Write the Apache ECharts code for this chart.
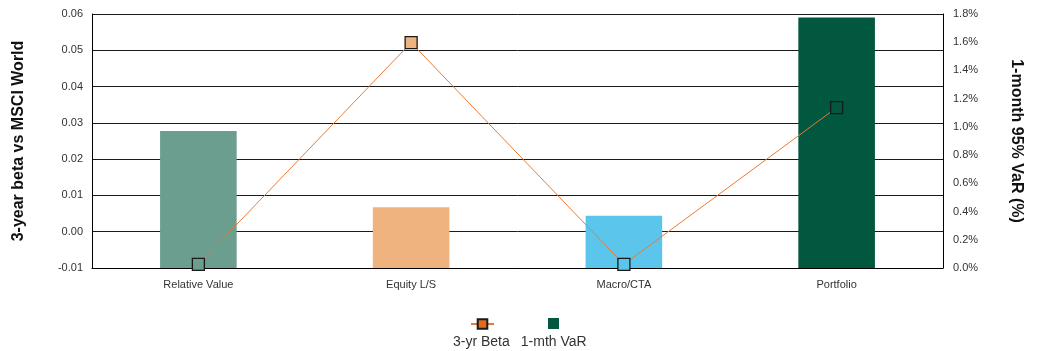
<!DOCTYPE html>
<html>
<head>
<meta charset="utf-8">
<script src="https://cdn.jsdelivr.net/npm/echarts@6/dist/echarts.min.js"></script>
<style>
  html, body { margin: 0; padding: 0; background: #fff; }
  #chart { width: 1042px; height: 351px; }
</style>
</head>
<body>
<div id="chart"></div>
<script>
// Strategy categories along the x axis
const categories = ['Relative Value', 'Equity L/S', 'Macro/CTA', 'Portfolio'];
// 3-year beta vs MSCI World (left axis)
const betaValues = [-0.009, 0.0521, -0.009, 0.0342];
// 1-month 95% VaR in percent (right axis)
const varValues = [0.97, 0.43, 0.37, 1.776];

// Palette: one colour per strategy
const strategyColors = ['#6b9e8e', '#eeb37f', '#5cc5ec', '#02573f'];
const betaColor = '#e06a1f';
const lineColor = '#e87b36';
const font = 'Liberation Sans, Arial, sans-serif';

const chart = echarts.init(document.getElementById('chart'), null, { renderer: 'canvas' });

chart.setOption({
  animation: false,
  textStyle: { fontFamily: font },
  grid: { left: 92, right: 99, top: 14, bottom: 83, containLabel: false },
  legend: [
    {
      // line + marker swatch
      data: ['3-yr Beta'],
      left: 470, top: 318, padding: 0,
      itemWidth: 23, itemHeight: 12,
      formatter: () => '',
      textStyle: { fontSize: 1 }
    },
    {
      // square swatch
      data: [{ name: '1-mth VaR', icon: 'path://M0,0H10V10H0Z', itemStyle: { color: '#02573f' } }],
      left: 548, top: 318, padding: 0,
      itemWidth: 11, itemHeight: 11,
      formatter: () => '',
      textStyle: { fontSize: 1 }
    },
    {
      // labels under the swatches (swatch hidden)
      data: ['3-yr Beta', '1-mth VaR'],
      left: 447, top: 335, padding: 0,
      itemWidth: 1, itemHeight: 1, itemGap: 5,
      icon: 'rect',
      itemStyle: { opacity: 0, borderWidth: 0 },
      lineStyle: { opacity: 0 },
      textStyle: { fontSize: 14, color: '#333', fontFamily: font }
    }
  ],
  xAxis: {
    type: 'category',
    data: categories,
    axisLine: { show: true, onZero: false, lineStyle: { color: '#000', width: 1 } },
    axisTick: { show: false },
    axisLabel: { fontSize: 11, color: '#333', margin: 11, fontFamily: font },
    splitLine: { show: false }
  },
  yAxis: [
    {
      type: 'value',
      min: -0.01, max: 0.06, interval: 0.01,
      name: '3-year beta vs MSCI World',
      nameLocation: 'middle',
      nameGap: 65.5,
      nameRotate: 90,
      nameTextStyle: { fontSize: 16, fontWeight: 'bold', color: '#111', fontFamily: font },
      axisLine: { show: true, lineStyle: { color: '#000', width: 1 } },
      axisTick: { show: false },
      axisLabel: { fontSize: 11, color: '#333', margin: 9, fontFamily: font,
                   formatter: v => v.toFixed(2) },
      splitLine: { show: true, lineStyle: { color: '#1a1a1a', width: 1 } }
    },
    {
      type: 'value',
      min: 0, max: 1.8, interval: 0.2,
      name: '1-month 95% VaR (%)',
      nameLocation: 'middle',
      nameGap: 65.5,
      nameRotate: -90,
      nameTextStyle: { fontSize: 16, fontWeight: 'bold', color: '#111', fontFamily: font },
      axisLine: { show: true, lineStyle: { color: '#000', width: 1 } },
      axisTick: { show: false },
      axisLabel: { fontSize: 11, color: '#333', margin: 10, fontFamily: font,
                   formatter: v => v.toFixed(1) + '%' },
      splitLine: { show: false }
    }
  ],
  series: [
    {
      name: '1-mth VaR',
      type: 'bar',
      yAxisIndex: 1,
      barWidth: '36%',
      itemStyle: { color: '#02573f' },
      data: varValues.map((v, i) => ({ value: v, itemStyle: { color: strategyColors[i] } })),
      z: 2
    },
    {
      name: '3-yr Beta',
      type: 'line',
      yAxisIndex: 0,
      symbol: 'rect',
      symbolSize: 12,
      lineStyle: { color: lineColor, width: 1 },
      itemStyle: { color: betaColor, borderColor: '#1a1a1a', borderWidth: 1.3 },
      data: betaValues.map((v, i) => ({ value: v, itemStyle: { color: strategyColors[i] } })),
      z: 5
    }
  ]
});
</script>
</body>
</html>
